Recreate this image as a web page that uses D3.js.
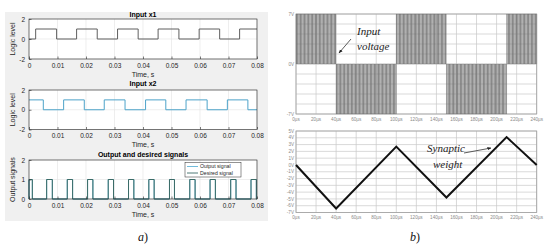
<!DOCTYPE html>
<html><head><meta charset="utf-8">
<script src="https://cdn.jsdelivr.net/npm/d3@7"></script>
<style>body{margin:0;background:#fff}svg{display:block}</style>
</head><body>
<svg id="c" width="550" height="247"></svg>
<script>
// ---------- DATA ----------
const timeTicksA = [0,0.01,0.02,0.03,0.04,0.05,0.06,0.07,0.08];
const x1Edges = [0.00234,0.00969,0.0167,0.02394,0.03107,0.0383,0.0453,0.0526,0.0597,0.0669,0.0739]; // rise, fall, ...
const x1Start = 0;
const x2Edges = [0.00502,0.01215,0.0194,0.0264,0.0337,0.0409,0.048,0.0551,0.0625,0.0696,0.0768]; // fall, rise, ...
const x2Start = 1;
const outputPulses = [[0,0.00117],[0.00619,0.00818],[0.01343,0.0153],[0.02055,0.02242],[0.0278,0.02966],[0.03492,0.03679],[0.04204,0.04391],[0.04929,0.05104],[0.05641,0.05828],[0.06353,0.0654],[0.07077,0.07264],[0.0779,0.07977]];
const desiredPulses = outputPulses.map(d=>d.slice());
const logicTicks = [-2,0,2];
const outTicks = [0,1,2];

const timeTicksB = [0,20,40,60,80,100,120,140,160,180,200,220,240];
const voltTicksTop = [-7,0,7];
const voltTicksBottom = [-7,-6,-5,-4,-3,-2,-1,0,1,2,3,4,5];
const inputSegments = [[0,40,7],[40,100,-7],[100,150,7],[150,210,-7],[210,240,7]];
const carrierPeriod = 1.35; // µs
const weightT = [0,40,100,150,210,240];
const weightV = [0,-6.4,2.7,-4.8,4.1,0];

// ---------- DRAW ----------
(function(){
const svg = d3.select('#c');
const sans = 'Liberation Sans, Arial, sans-serif';
const serif = 'Liberation Serif, Times New Roman, serif';

svg.append('defs').append('marker').attr('id','ah').attr('viewBox','0 0 10 10')
  .attr('refX',9).attr('refY',5).attr('markerWidth',5).attr('markerHeight',5).attr('orient','auto')
  .append('path').attr('d','M0,1L10,5L0,9Z').attr('fill','#222');

svg.append('rect').attr('x',5).attr('y',12).attr('width',263).attr('height',209).attr('fill','#f0f0f0');

const xA = d3.scaleLinear().domain([0,0.08]).range([29,257]);

function stepData(start, edges){
  const pts=[[0,start]]; let v=start;
  edges.forEach(e=>{pts.push([e,v]); v=1-v; pts.push([e,v]);});
  pts.push([0.08,v]); return pts;
}
function pulseData(pulses){
  const pts=[[0,0]];
  pulses.forEach(([a,b])=>{pts.push([a,0],[a,1],[b,1],[b,0]);});
  pts.push([0.08,0]); return pts;
}

function subplot(top,bottom,ydom,yticks,title,ylabel,series){
  const y = d3.scaleLinear().domain(ydom).range([bottom,top]);
  const g = svg.append('g');
  g.append('rect').attr('x',29).attr('y',top).attr('width',228).attr('height',bottom-top).attr('fill','#fff');
  g.selectAll('.gx').data(timeTicksA).enter().append('line')
    .attr('x1',d=>xA(d)).attr('x2',d=>xA(d)).attr('y1',top).attr('y2',bottom)
    .attr('stroke','#e3e3e3').attr('stroke-width',0.6);
  g.selectAll('.gy').data(yticks).enter().append('line')
    .attr('x1',29).attr('x2',257).attr('y1',d=>y(d)).attr('y2',d=>y(d))
    .attr('stroke','#e3e3e3').attr('stroke-width',0.6);
  const line = d3.line().x(d=>xA(d[0])).y(d=>y(d[1]));
  series.forEach(s=>{
    g.append('path').attr('d',line(s.data)).attr('fill','none').attr('stroke',s.color).attr('stroke-width',1);
  });
  g.append('rect').attr('x',29).attr('y',top).attr('width',228).attr('height',bottom-top)
    .attr('fill','none').attr('stroke','#262626').attr('stroke-width',0.6);
  const ax = g.append('g').attr('transform',`translate(0,${bottom})`)
    .call(d3.axisBottom(xA).tickValues(timeTicksA).tickSize(-2.5).tickPadding(4).tickFormat(d=>d===0?'0':d3.format('.2f')(d)));
  const ay = g.append('g').attr('transform','translate(29,0)')
    .call(d3.axisLeft(y).tickValues(yticks).tickSize(-2.5).tickPadding(4).tickFormat(d=>d<0?'-'+Math.abs(d):d));
  [ax,ay].forEach(a=>{a.select('.domain').remove();
    a.selectAll('line').attr('stroke','#262626').attr('stroke-width',0.6);
    a.selectAll('text').attr('font-family',sans).attr('font-size',6.5).attr('fill','#262626');});
  g.append('text').attr('x',143).attr('y',top-(title.dy||3)).attr('text-anchor','middle')
    .attr('font-family',sans).attr('font-size',7).attr('font-weight','bold').attr('fill','#000').text(title.t);
  g.append('text').attr('x',143).attr('y',bottom+17.5).attr('text-anchor','middle')
    .attr('font-family',sans).attr('font-size',7).attr('fill','#262626').text('Time, s');
  g.append('text').attr('transform',`translate(14.5,${(top+bottom)/2}) rotate(-90)`).attr('text-anchor','middle')
    .attr('font-family',sans).attr('font-size',7).attr('fill','#262626').text(ylabel);
  return g;
}

subplot(19,59,[-2,2],logicTicks,{t:'Input x1',dy:2.5},'Logic level',[{data:stepData(x1Start,x1Edges),color:'#5f5f5f'}]);
subplot(90,129.5,[-2,2],logicTicks,{t:'Input x2',dy:4.5},'Logic level',[{data:stepData(x2Start,x2Edges),color:'#4da3c9'}]);
const g3 = subplot(160,199,[0,2],outTicks,{t:'Output and desired signals',dy:3.5},'Output signals',
  [{data:pulseData(outputPulses),color:'#62b3d6'},{data:pulseData(desiredPulses),color:'#3b6b66'}]);
g3.append('rect').attr('x',185).attr('y',162.5).attr('width',56).attr('height',14.5)
  .attr('fill','#fff').attr('stroke','#262626').attr('stroke-width',0.5);
[['Output signal','#62b3d6'],['Desired signal','#3b6b66']].forEach((d,i)=>{
  const yy = 166.5+i*6.5;
  g3.append('line').attr('x1',187).attr('x2',198).attr('y1',yy).attr('y2',yy).attr('stroke',d[1]).attr('stroke-width',0.9);
  g3.append('text').attr('x',200).attr('y',yy+1.8).attr('font-family',sans).attr('font-size',5.2).attr('fill','#262626').text(d[0]);
});

svg.append('text').attr('x',143).attr('y',241).attr('text-anchor','middle').attr('font-family',serif)
  .attr('font-size',12).attr('fill','#111').html('<tspan font-style="italic">a</tspan>)');

// ---------- panel b ----------
const xB = d3.scaleLinear().domain([0,240]).range([296,536.7]);
function panelB(top,bottom,ydom,yticks,gridY){
  const y = d3.scaleLinear().domain(ydom).range([bottom,top]);
  const g = svg.append('g');
  g.selectAll('.gx').data(timeTicksB).enter().append('line')
    .attr('x1',d=>xB(d)).attr('x2',d=>xB(d)).attr('y1',top).attr('y2',bottom)
    .attr('stroke','#c9c9c9').attr('stroke-width',0.7);
  g.selectAll('.gy').data(gridY).enter().append('line')
    .attr('x1',296).attr('x2',536.7).attr('y1',d=>y(d)).attr('y2',d=>y(d))
    .attr('stroke','#c9c9c9').attr('stroke-width',0.7);
  g.append('rect').attr('x',296).attr('y',top).attr('width',240.7).attr('height',bottom-top)
    .attr('fill','none').attr('stroke','#a0a0a0').attr('stroke-width',0.8);
  g.selectAll('.tx').data(timeTicksB).enter().append('text')
    .attr('x',d=>xB(d)).attr('y',bottom+6.5).attr('text-anchor','middle')
    .attr('font-family',sans).attr('font-size',4.6).attr('fill','#8a8a8a').text(d=>d+'µs');
  g.selectAll('.ty').data(yticks).enter().append('text')
    .attr('x',294).attr('y',d=>y(d)+1.6).attr('text-anchor','end')
    .attr('font-family',sans).attr('font-size',4.6).attr('fill','#8a8a8a').text(d=>d+'V');
  return {g,y};
}
const topP = panelB(14,114,[-7,7],voltTicksTop,d3.range(-7,7.01,1.4));
const carrierPts=[];
inputSegments.forEach(([t0,t1,lv])=>{
  for(let t=t0;t<t1-1e-9;t+=carrierPeriod){
    const hi=Math.min(t+carrierPeriod*0.55,t1);
    carrierPts.push([t,0],[t,lv],[hi,lv],[hi,0]);
  }
});
topP.g.append('path').attr('d',d3.line().x(d=>xB(d[0])).y(d=>topP.y(d[1]))(carrierPts)+'Z')
  .attr('fill','#6a6a6a').attr('stroke','#7a7a7a').attr('stroke-width',0.2);
topP.g.append('text').attr('x',357).attr('y',35).attr('font-family',serif).attr('font-style','italic')
  .attr('font-size',11).attr('fill','#222').text('Input');
topP.g.append('text').attr('x',357).attr('y',50).attr('font-family',serif).attr('font-style','italic')
  .attr('font-size',11).attr('fill','#222').text('voltage');
topP.g.append('line').attr('x1',351).attr('y1',39).attr('x2',339).attr('y2',53)
  .attr('stroke','#333').attr('stroke-width',0.8).attr('marker-end','url(#ah)');

const botP = panelB(131,212.5,[-7,5],voltTicksBottom,voltTicksBottom);
botP.g.append('path').attr('d',d3.line().x((d,i)=>xB(weightT[i])).y(d=>botP.y(d))(weightV))
  .attr('fill','none').attr('stroke','#111').attr('stroke-width',2).attr('stroke-linejoin','miter');
botP.g.append('text').attr('x',427).attr('y',152).attr('font-family',serif).attr('font-style','italic')
  .attr('font-size',11).attr('fill','#222').text('Synaptic');
botP.g.append('text').attr('x',433).attr('y',168).attr('font-family',serif).attr('font-style','italic')
  .attr('font-size',11).attr('fill','#222').text('weight');
botP.g.append('line').attr('x1',464).attr('y1',153).attr('x2',491).attr('y2',148)
  .attr('stroke','#333').attr('stroke-width',0.8).attr('marker-end','url(#ah)');

svg.append('text').attr('x',415).attr('y',241).attr('text-anchor','middle').attr('font-family',serif)
  .attr('font-size',12).attr('fill','#111').html('<tspan font-style="italic">b</tspan>)');
})();
</script>
</body></html>
